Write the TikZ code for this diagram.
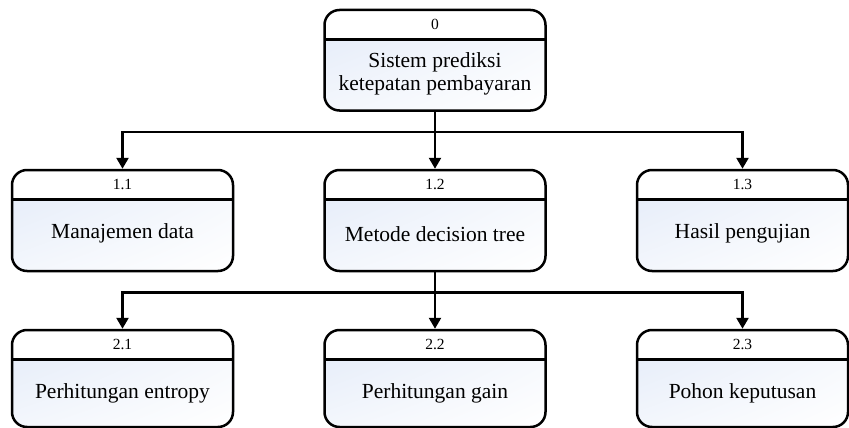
\documentclass[tikz,border=0pt]{standalone}
\usepackage{fontspec}
\setmainfont{Liberation Serif}
\usetikzlibrary{arrows.meta,positioning,shadings}
\definecolor{procblue}{RGB}{226,234,248}
\tikzset{
  procbox/.style={draw, line width=2.5pt, rounded corners=15pt, minimum width=221pt,
    minimum height=101pt, inner sep=0pt,
    path picture={
      \shade[draw=none, sharp corners, upper left=procblue, upper right=white!60!procblue,
        lower left=white!60!procblue, lower right=white]
        (path picture bounding box.south west) rectangle ([yshift=-29.5pt]path picture bounding box.north east);
      \draw[line width=2.5pt] ([yshift=-29.5pt]path picture bounding box.north west)
        -- ([yshift=-29.5pt]path picture bounding box.north east);
    }},
  procnum/.style={font=\fontsize{15.5}{17}\selectfont, inner sep=0pt},
  proctext/.style={font=\fontsize{21.5}{23}\selectfont, align=center, inner sep=0pt},
  link/.style={line width=2.5pt, -{Triangle[width=12pt,length=11pt]}},
}
\begin{document}
\begin{tikzpicture}[x=1pt, y=-1pt]
  \useasboundingbox (0,0) rectangle (849,428);
  % level 0
  \node[procbox, minimum height=100.5pt] (p0) at (435,60.25) {};
  \node[procnum] (n0) at ([yshift=-16pt]p0.north) {0};
  \node[proctext] (t0) at ([yshift=-65pt]p0.north) {Sistem prediksi\\ketepatan pembayaran};
  % level 1
  \node[procbox] (p11) at (122.5,220.5) {};
  \node[procnum] (n11) at ([yshift=-16pt]p11.north) {1.1};
  \node[proctext] (t11) at ([yshift=-65pt]p11.north) {Manajemen data};
  \node[procbox] (p12) at (435,220.5) {};
  \node[procnum] (n12) at ([yshift=-16pt]p12.north) {1.2};
  \node[proctext] (t12) at ([yshift=-65pt]p12.north) {Metode decision tree};
  \node[procbox, minimum width=211pt] (p13) at (742.5,220.5) {};
  \node[procnum] (n13) at ([yshift=-16pt]p13.north) {1.3};
  \node[proctext] (t13) at ([yshift=-65pt]p13.north) {Hasil pengujian};
  % level 2
  \node[procbox, minimum height=97pt] (p21) at (122.5,378.5) {};
  \node[procnum] (n21) at ([yshift=-16pt]p21.north) {2.1};
  \node[proctext] (t21) at ([yshift=-65pt]p21.north) {Perhitungan entropy};
  \node[procbox, minimum height=97pt] (p22) at (435,378.5) {};
  \node[procnum] (n22) at ([yshift=-16pt]p22.north) {2.2};
  \node[proctext] (t22) at ([yshift=-65pt]p22.north) {Perhitungan gain};
  \node[procbox, minimum height=97pt, minimum width=211pt] (p23) at (742.5,378.5) {};
  \node[procnum] (n23) at ([yshift=-16pt]p23.north) {2.3};
  \node[proctext] (t23) at ([yshift=-65pt]p23.north) {Pohon keputusan};
  % connectors
  \coordinate (j0) at ([yshift=-20pt]p0.south);
  \draw[link] (p0.south) -- (j0) -| (p11.north);
  \draw[link] (j0) -| (p13.north);
  \draw[link] (p0.south) -- (p12.north);
  \coordinate (j1) at ([yshift=-20pt]p12.south);
  \draw[link] (p12.south) -- (j1) -| (p21.north);
  \draw[link] (j1) -| (p23.north);
  \draw[link] (p12.south) -- (p22.north);
\end{tikzpicture}
\end{document}
